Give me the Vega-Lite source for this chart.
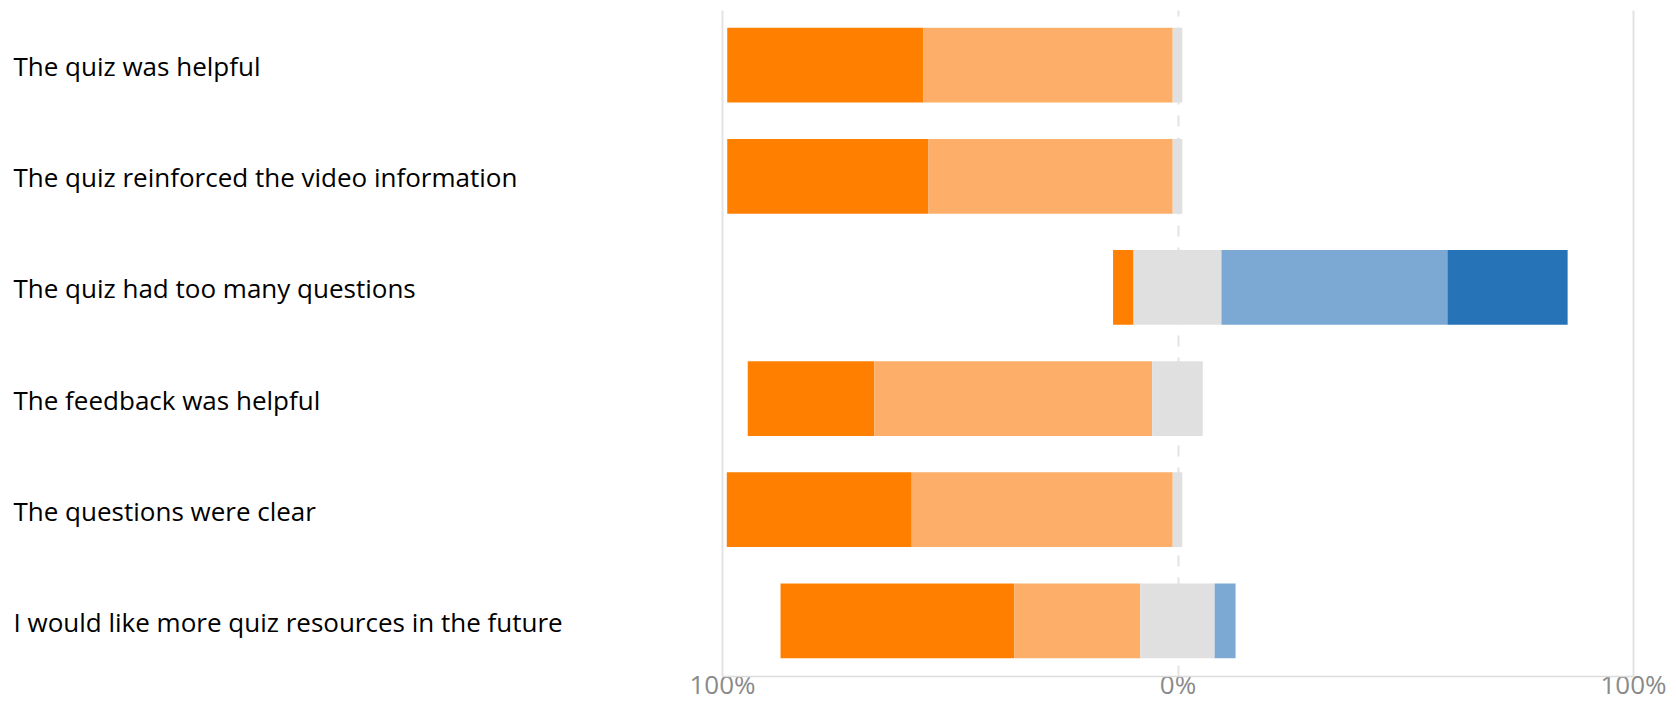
{
  "$schema": "https://vega.github.io/schema/vega-lite/v6.json",
  "width": 911,
  "height": 666,
  "autosize": {"type": "none"},
  "padding": {"left": 722, "top": 10, "right": 43, "bottom": 26},
  "background": "white",
  "config": {"view": {"stroke": null}},
  "data": {
    "values": [
      {"question": "The quiz was helpful", "response": "Strongly agree", "pct": 43.0},
      {"question": "The quiz was helpful", "response": "Agree", "pct": 54.8},
      {"question": "The quiz was helpful", "response": "Neutral", "pct": 2.1},
      {"question": "The quiz reinforced the video information", "response": "Strongly agree", "pct": 44.1},
      {"question": "The quiz reinforced the video information", "response": "Agree", "pct": 53.7},
      {"question": "The quiz reinforced the video information", "response": "Neutral", "pct": 2.1},
      {"question": "The quiz had too many questions", "response": "Strongly agree", "pct": 4.5},
      {"question": "The quiz had too many questions", "response": "Neutral", "pct": 19.3},
      {"question": "The quiz had too many questions", "response": "Disagree", "pct": 49.6},
      {"question": "The quiz had too many questions", "response": "Strongly disagree", "pct": 26.4},
      {"question": "The feedback was helpful", "response": "Strongly agree", "pct": 27.8},
      {"question": "The feedback was helpful", "response": "Agree", "pct": 61.0},
      {"question": "The feedback was helpful", "response": "Neutral", "pct": 11.1},
      {"question": "The questions were clear", "response": "Strongly agree", "pct": 40.6},
      {"question": "The questions were clear", "response": "Agree", "pct": 57.3},
      {"question": "The questions were clear", "response": "Neutral", "pct": 2.1},
      {"question": "I would like more quiz resources in the future", "response": "Strongly agree", "pct": 51.3},
      {"question": "I would like more quiz resources in the future", "response": "Agree", "pct": 27.7},
      {"question": "I would like more quiz resources in the future", "response": "Neutral", "pct": 16.3},
      {"question": "I would like more quiz resources in the future", "response": "Disagree", "pct": 4.6}
    ]
  },
  "transform": [
    {"calculate": "indexof(['Strongly agree','Agree','Neutral','Disagree','Strongly disagree'], datum.response)", "as": "rank"},
    {"calculate": "datum.rank < 2 ? datum.pct : (datum.rank == 2 ? datum.pct / 2 : 0)", "as": "leftpart"},
    {"joinaggregate": [{"op": "sum", "field": "leftpart", "as": "offset"}], "groupby": ["question"]},
    {"stack": "pct", "groupby": ["question"], "sort": [{"field": "rank", "order": "ascending"}], "as": ["s0", "s1"]},
    {"calculate": "datum.s0 - datum.offset", "as": "x0"},
    {"calculate": "datum.s1 - datum.offset", "as": "x1"}
  ],
  "mark": {"type": "bar"},
  "encoding": {
    "y": {
      "field": "question",
      "type": "nominal",
      "sort": ["The quiz was helpful", "The quiz reinforced the video information", "The quiz had too many questions", "The feedback was helpful", "The questions were clear", "I would like more quiz resources in the future"],
      "scale": {"paddingInner": 0.327, "paddingOuter": 0.16},
      "axis": {
        "title": null,
        "ticks": false,
        "domain": false,
        "labelAlign": "left",
        "labelPadding": 709,
        "labelOffset": 3,
        "labelLimit": 0,
        "labelFont": "Open Sans",
        "labelFontSize": 26,
        "labelColor": "#000000"
      }
    },
    "x": {
      "field": "x0",
      "type": "quantitative",
      "scale": {"domain": [-100, 100], "nice": false},
      "axis": {
        "title": null,
        "values": [-100, 0, 100],
        "labelExpr": "abs(datum.value) + '%'",
        "grid": true,
        "gridColor": "#e3e3e3",
        "gridWidth": 2,
        "gridDash": {"condition": {"test": "datum.value === 0", "value": [11, 11]}, "value": []},
        "ticks": false,
        "domainColor": "#dcdcdc",
        "domainWidth": 1.5,
        "labelFont": "Open Sans",
        "labelFontSize": 26,
        "labelColor": "#8a8a8a",
        "labelPadding": -4,
        "labelFlush": false,
        "labelOverlap": false
      }
    },
    "x2": {"field": "x1"},
    "color": {
      "field": "response",
      "type": "nominal",
      "scale": {
        "domain": ["Strongly agree", "Agree", "Neutral", "Disagree", "Strongly disagree"],
        "range": ["#ff8000", "#fdaf69", "#e0e0e0", "#7ba9d3", "#2673b8"]
      },
      "legend": null
    }
  }
}
